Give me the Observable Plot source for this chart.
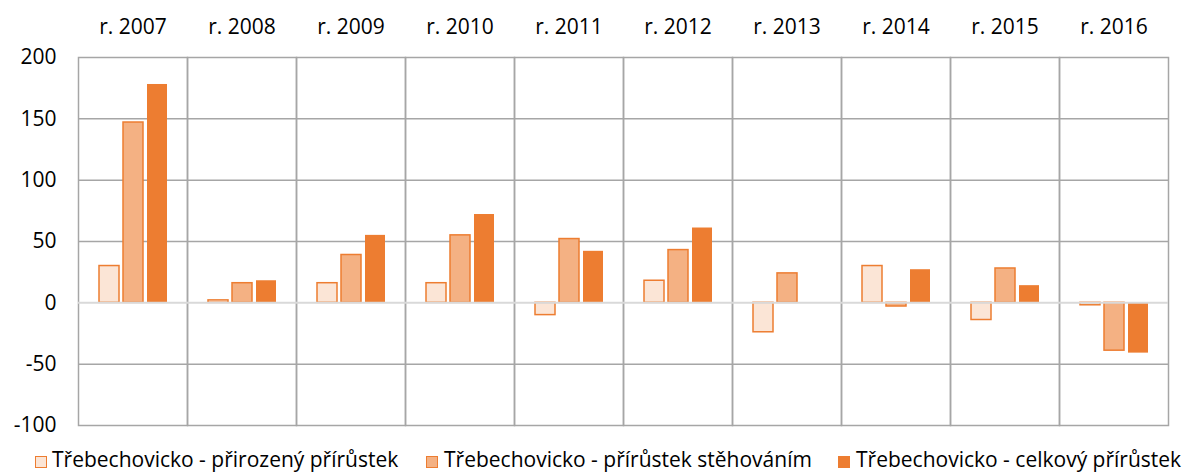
<!DOCTYPE html>
<html>
<head>
<meta charset="utf-8">
<script src="https://cdn.jsdelivr.net/npm/d3@7"></script>
<script src="https://cdn.jsdelivr.net/npm/@observablehq/plot@0.6"></script>
<style>
  html, body { margin: 0; padding: 0; background: #fff; }
  #wrap { position: relative; width: 1187px; height: 474px; overflow: hidden; font-family: "Open Sans", Lato, sans-serif; }
  #wrap svg { display: block; }
  .leg { position: absolute; top: 445px; font-size: 21px; color: #000; white-space: nowrap; line-height: 28px; }
  .sw { position: absolute; width: 12px; height: 12px; top: 456px; box-sizing: border-box; }
</style>
</head>
<body>
<div id="wrap"></div>
<script>
const years = [2007, 2008, 2009, 2010, 2011, 2012, 2013, 2014, 2015, 2016];
const seriesNames = [
  "Třebechovicko - přirozený přírůstek",
  "Třebechovicko - přírůstek stěhováním",
  "Třebechovicko - celkový přírůstek"
];
const prirozeny = [30, 2, 16, 16, -10, 18, -24, 30, -14, -2];
const stehovani = [147, 16, 39, 55, 52, 43, 24, -3, 28, -39];
const celkovy   = [178, 18, 55, 72, 42, 61, 0, 27, 14, -41];
const yTicks = [-100, -50, 0, 50, 100, 150, 200];
const fills   = ["#fbe5d6", "#f4b183", "#ed7d31"];
const strokes = ["#ed7d31", "#ed7d31", "#ed7d31"];

const seriesValues = [prirozeny, stehovani, celkovy];
const rows = years.flatMap((yr, i) => seriesNames.map((s, k) => ({year: yr, series: s, value: seriesValues[k][i]})));

const grid = "#a6a6a6";
const chart = Plot.plot({
  width: 1187,
  height: 445,
  marginTop: 57,
  marginBottom: 20,
  marginLeft: 74,
  marginRight: 16,
  style: {fontFamily: "'Open Sans', Lato, sans-serif", fontSize: "21px", color: "#000", background: "#fff"},
  fx: {domain: years, padding: 0, axis: "top", tickSize: 0, tickPadding: 24, tickFormat: d => "r. " + d, label: null},
  x: {domain: seriesNames, paddingInner: 0.184, paddingOuter: 0.83, axis: null},
  y: {domain: [-100, 200], ticks: yTicks, tickSize: 0, tickPadding: 22, label: null, tickFormat: d => String(d)},
  marks: [
    Plot.ruleY([-50, 50, 100, 150], {stroke: grid, strokeWidth: 1.5}),
    Plot.frame({stroke: grid, strokeWidth: 1.5}),
    ...seriesNames.map((s, k) => Plot.barY(rows.filter(r => r.series === s), {
      fx: "year", x: "series", y: "value",
      fill: fills[k], stroke: k < 2 ? strokes[k] : "none", strokeWidth: 1.5
    })),
    Plot.ruleY([0], {stroke: "#d9d9d9", strokeWidth: 2})
  ]
});
const wrap = document.getElementById("wrap");
wrap.appendChild(chart);

const legX = [[35, 52], [426, 444], [838, 856]];
seriesNames.forEach((s, k) => {
  const sw = document.createElement("div");
  sw.className = "sw";
  sw.style.left = legX[k][0] + "px";
  sw.style.background = fills[k];
  sw.style.border = "1.5px solid " + strokes[k];
  wrap.appendChild(sw);
  const t = document.createElement("div");
  t.className = "leg";
  t.style.left = legX[k][1] + "px";
  t.textContent = s;
  wrap.appendChild(t);
});
</script>
</body>
</html>
